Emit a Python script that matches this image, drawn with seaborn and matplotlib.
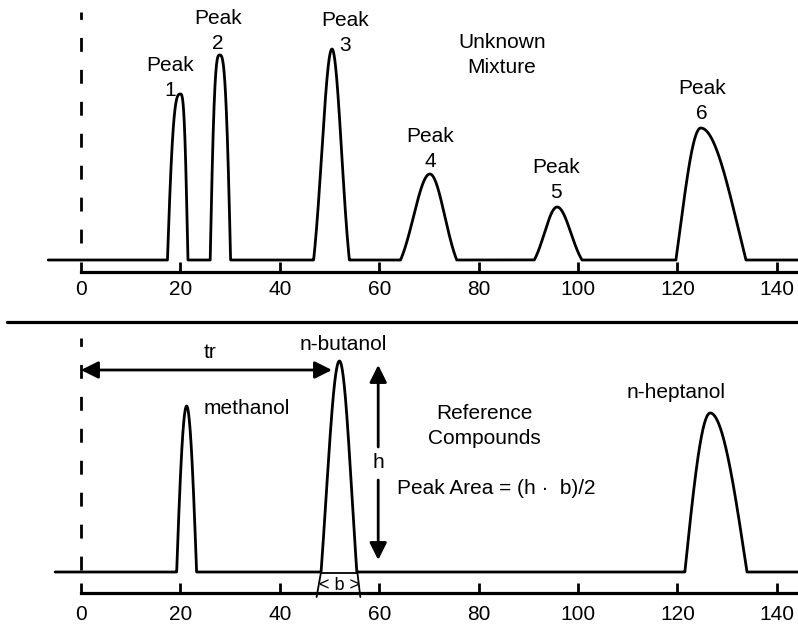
import numpy as np
import pandas as pd
import seaborn as sns
import matplotlib.pyplot as plt

# Unknown mixture peaks: retention time, height, left / right half base width,
# and a sharpness (k) / flatness (m) pair describing the peak profile
mix_names = ["Peak\n1", "Peak\n2", "Peak\n3", "Peak\n4", "Peak\n5", "Peak\n6"]
mix_center = [20.0, 27.9, 50.5, 70.2, 95.8, 124.7]
mix_height = [166, 205, 211, 86, 53, 132]
mix_wl = [2.6, 1.9, 3.7, 5.9, 4.6, 5.0]
mix_wr = [1.5, 2.2, 3.5, 5.4, 5.0, 9.1]
mix_k = [1.0, 1.0, 1.8, 1.8, 1.8, 1.2]
mix_m = [3, 3, 2, 2, 2, 2]
mix_label_t = [17.9, 27.6, 53.1, 70.2, 95.6, 124.9]
mix_label_s = [182, 229, 227, 111, 80, 159]

# Reference compounds
ref_names = ["methanol", "n-butanol", "n-heptanol"]
ref_center = [21.25, 52.0, 126.6]
ref_height = [166, 211, 159]
ref_wl = [2.0, 3.7, 5.1]
ref_wr = [2.0, 3.5, 7.4]
ref_k = [0.8, 1.4, 1.0]
ref_m = [2, 2, 2]

ticks = [0, 20, 40, 60, 80, 100, 120, 140]
tick_labels = ["0", "20", "40", "60", "80", "100", "120", "140"]

PX = 4.97  # pixels per time unit
X0 = 81


def peak_trace(t, centers, heights, wl, wr, ks, ms):
    y = np.zeros_like(t)
    for c, h, a, b, k, m in zip(centers, heights, wl, wr, ks, ms):
        floor = np.exp(-k ** m / 2)
        w = np.where(t < c, a, b)
        u = np.abs(t - c) / w
        p = (np.exp(-(k * u) ** m / 2) - floor) / (1 - floor)
        y += np.where(u < 1, h * p, 0.0)
    return y


sns.set_theme(style="white")
plt.rcParams["font.family"] = ["Liberation Sans", "DejaVu Sans"]
plt.rcParams["text.color"] = "black"

fig = plt.figure(figsize=(7.98, 6.24), dpi=100)
ax_top = fig.add_axes([0, 1 - 310 / 624, 1, 310 / 624])
ax_bot = fig.add_axes([0, 0, 1, 314 / 624])

xlim = (-X0 / PX, (798 - X0) / PX)
fs = 15

for ax, ylim, spine_y, pad in [(ax_top, (-50, 260), -12, 6), (ax_bot, (-52, 262), -21, 9)]:
    ax.set_xlim(*xlim)
    ax.set_ylim(*ylim)
    ax.patch.set_alpha(0)
    for side in ["top", "left", "right"]:
        ax.spines[side].set_visible(False)
    ax.spines["bottom"].set_position(("data", spine_y))
    ax.spines["bottom"].set_bounds(0, xlim[1])
    ax.spines["bottom"].set_linewidth(2.3)
    ax.spines["bottom"].set_color("black")
    ax.set_xticks(ticks)
    ax.set_xticklabels(tick_labels)
    ax.set_yticks([])
    ax.tick_params(axis="x", direction="in", length=7, width=2, pad=pad,
                   labelsize=fs, colors="black", bottom=True)

# top chromatogram
t_top = np.linspace(-6.6, xlim[1], 5000)
df_top = pd.DataFrame({"t": t_top,
                       "s": peak_trace(t_top, mix_center, mix_height, mix_wl, mix_wr,
                                       mix_k, mix_m)})
sns.lineplot(data=df_top, x="t", y="s", ax=ax_top, color="black", lw=2.0)
ax_top.plot([0, 0], [17, 248], color="black", lw=2.0, dashes=(5, 6.5))
ax_top.set_xlabel("")
ax_top.set_ylabel("")

for name, t, s in zip(mix_names, mix_label_t, mix_label_s):
    ax_top.text(t, s, name, ha="center", va="center", fontsize=fs, linespacing=1.4)
ax_top.text(84.7, 205, "Unknown\nMixture", ha="center", va="center", fontsize=fs,
            linespacing=1.4)

# bottom chromatogram
t_bot = np.linspace(-5.2, xlim[1], 5000)
df_bot = pd.DataFrame({"t": t_bot,
                       "s": peak_trace(t_bot, ref_center, ref_height, ref_wl, ref_wr,
                                       ref_k, ref_m)})
sns.lineplot(data=df_bot, x="t", y="s", ax=ax_bot, color="black", lw=2.0)
ax_bot.plot([0, 0], [2, 234], color="black", lw=2.0, dashes=(5, 6.5))
ax_bot.axhline(250, xmin=0.009, color="black", lw=2.3)
ax_bot.set_xlabel("")
ax_bot.set_ylabel("")

ax_bot.text(33.4, 163, "methanol", ha="center", va="center", fontsize=fs)
ax_bot.text(52.7, 227, "n-butanol", ha="center", va="center", fontsize=fs)
ax_bot.text(119.7, 179, "n-heptanol", ha="center", va="center", fontsize=fs)
ax_bot.text(81.1, 146, "Reference\nCompounds", ha="center", va="center", fontsize=fs,
            linespacing=1.4)
ax_bot.text(63.6, 84, "Peak Area = (h \u00b7  b)/2", ha="left", va="center", fontsize=fs)

# retention time arrow
arrow = dict(arrowstyle="<|-|>", color="black", lw=2.0, mutation_scale=26,
             shrinkA=0, shrinkB=0)
ax_bot.annotate("", xy=(0, 202), xytext=(50.5, 202), arrowprops=arrow)
ax_bot.text(26, 219, "tr", ha="center", va="center", fontsize=fs)

# height arrow
half = dict(arrowstyle="-|>", color="black", lw=2.0, mutation_scale=26,
            shrinkA=0, shrinkB=0)
ax_bot.annotate("", xy=(59.8, 207), xytext=(59.8, 125), arrowprops=half)
ax_bot.annotate("", xy=(59.8, 12), xytext=(59.8, 92), arrowprops=half)
ax_bot.text(59.8, 109, "h", ha="center", va="center", fontsize=fs)

# base width bracket
b_left, b_right = 48.3, 55.6
ax_bot.plot([b_left, b_right], [-1, -1], color="black", lw=1.3)
ax_bot.plot([b_left, 47.4], [0, -25], color="black", lw=1.3)
ax_bot.plot([b_right, 56.2], [0, -25], color="black", lw=1.3)
ax_bot.text((b_left + b_right) / 2, -14, "< b >", ha="center", va="center", fontsize=13)

fig.savefig("out.png", dpi=100)
